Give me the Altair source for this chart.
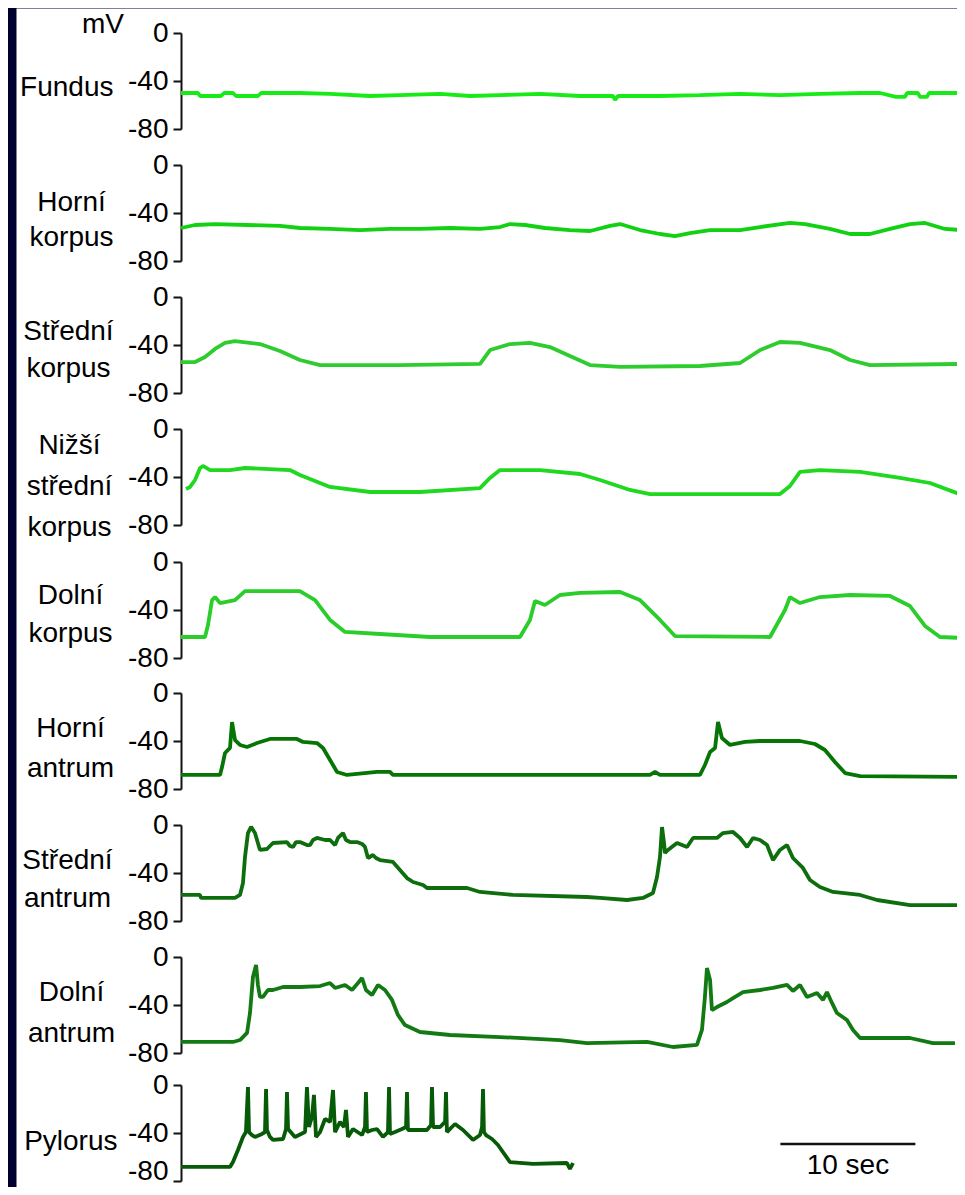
import altair as alt
import pandas as pd

# ---------------- data (time in s, potential in mV) ----------------
TITLES = [
    "Fundus",
    ["Horní", "korpus"],
    ["Střední", "korpus"],
    ["Nižší", "střední", "korpus"],
    ["Dolní", "korpus"],
    ["Horní", "antrum"],
    ["Střední", "antrum"],
    ["Dolní", "antrum"],
    "Pylorus",
]
TICKS = [0, -40, -80]
UNIT = "mV"
SCALE_BAR = [44.4, 54.4]
SCALE_LABEL = "10 sec"

COLORS = ["#18ea18", "#12d012", "#2fcc2f", "#1fd81f", "#2acd2a",
          "#067506", "#0e6e0e", "#137a13", "#075a07"]

FUNDUS = [(0, -50), (1.26, -50), (1.41, -52.5), (2.96, -52.5), (3.19, -50), (3.85, -50),
          (4.07, -52.5), (5.70, -52.5), (5.93, -50), (8.81, -50), (11.04, -50.8), (14.0, -52.5),
          (16.22, -51.7), (19.19, -50.8), (21.41, -52.5), (23.63, -51.7), (26.59, -50.8),
          (29.56, -52.5), (32.0, -52.5), (32.15, -55.8), (32.37, -52.5), (35.48, -52.5),
          (38.44, -51.7), (41.41, -50.8), (44.37, -51.7), (47.33, -50.8), (50.3, -50),
          (51.78, -50), (52.96, -53.3), (53.63, -53.3), (53.78, -50), (54.59, -50),
          (54.74, -53.3), (55.26, -53.3), (55.41, -50), (57.78, -50)]

HORNI_KORPUS = [(0, -52.5), (1.04, -50), (2.52, -49.2), (7.33, -50.8), (8.81, -52.5),
                (11.04, -53.3), (13.26, -54.2), (15.48, -53.3), (17.7, -53.3), (19.93, -52.5),
                (22.15, -53.3), (23.63, -51.7), (24.37, -49.2), (25.48, -50), (26.96, -52.5),
                (28.81, -54.2), (30.3, -55), (31.78, -50.8), (32.52, -49.2), (34.0, -54.2),
                (35.48, -57.5), (36.59, -59.2), (37.7, -56.7), (39.19, -54.2), (41.41, -54.2),
                (42.89, -51.7), (45.11, -48.3), (46.22, -49.2), (48.07, -53.3), (49.56, -57.5),
                (51.04, -57.5), (52.52, -53.3), (54.0, -49.2), (55.11, -48.3), (56.59, -53.3),
                (57.85, -54.2)]

STREDNI_KORPUS = [(0, -54.2), (1.04, -54.2), (1.78, -50), (2.52, -43.3), (3.26, -38.3),
                  (4.0, -36.7), (5.85, -39.2), (7.33, -45), (8.81, -52.5), (10.3, -56.7),
                  (16.22, -56.7), (22.15, -55.8), (22.89, -44.2), (24.37, -39.2), (25.85, -38.3),
                  (27.33, -41.7), (28.81, -49.2), (30.3, -56.7), (32.52, -58.3), (38.44, -57.5),
                  (41.41, -55), (42.89, -44.2), (44.37, -37.5), (45.85, -38.3), (48.07, -44.2),
                  (49.56, -52.5), (51.04, -56.7), (57.85, -55.8)]

NIZSI_KORPUS = [(0.37, -50), (0.67, -48.3), (1.04, -42.5), (1.41, -32.5), (1.63, -30.8),
                (2.15, -34.2), (3.63, -34.2), (4.74, -32.5), (8.07, -34.2), (8.81, -38.3),
                (11.04, -48.3), (14.0, -52.5), (17.7, -52.5), (22.15, -49.2), (22.89, -40.8),
                (23.63, -34.2), (26.59, -34.2), (29.56, -37.5), (31.04, -42.5), (33.26, -50.8),
                (34.74, -54.2), (44.37, -54.2), (45.11, -47.5), (45.85, -35.8), (47.33, -34.2),
                (50.3, -35.8), (53.26, -40.8), (55.48, -45), (57.85, -55)]

DOLNI_KORPUS = [(0, -62.5), (1.78, -62.5), (2.0, -52.5), (2.30, -31.7), (2.52, -29.2),
                (2.89, -34.2), (4.0, -31.7), (4.74, -24.2), (8.81, -24.2), (9.93, -31.7),
                (11.04, -48.3), (12.15, -58.3), (14.74, -60), (18.44, -62.5), (25.11, -62.5),
                (25.85, -48.3), (26.22, -32.5), (26.96, -35.8), (28.07, -27.5), (29.56, -25.8),
                (32.52, -25), (34.0, -31.7), (35.48, -48.3), (36.59, -61.7), (43.63, -62.5),
                (44.74, -40), (45.11, -29.2), (45.85, -34.2), (47.33, -29.2), (49.56, -27.5),
                (52.52, -28.3), (54.0, -36.7), (55.11, -53.3), (56.22, -62.5), (57.85, -63.3)]

HORNI_ANTRUM = [(0, -68.3), (2.89, -68.3), (3.04, -61.7), (3.26, -50), (3.63, -45.8),
                (3.78, -24.2), (4.0, -39.2), (4.37, -43.3), (4.89, -45), (5.63, -41.7),
                (6.59, -38.3), (8.59, -38.3), (9.04, -40.8), (10.07, -41.7), (10.52, -45.8),
                (11.04, -55.8), (11.56, -65.8), (12.30, -68.3), (14.52, -65.8), (15.48, -65.8),
                (15.70, -68.3), (34.74, -68.3), (35.11, -65.8), (35.48, -68.3), (38.44, -68.3),
                (38.81, -60), (39.19, -49.2), (39.56, -45.8), (39.78, -24.2), (40.07, -37.5),
                (40.67, -43.3), (41.78, -40.8), (42.89, -40), (45.85, -40), (46.96, -42.5),
                (47.70, -47.5), (48.44, -57.5), (49.19, -66.7), (50.30, -69.2), (57.85, -70)]

STREDNI_ANTRUM = [(0, -58.3), (1.41, -58.3), (1.48, -60.8), (4.0, -60.8), (4.37, -58.3),
                  (4.59, -48.3), (4.74, -26.7), (4.96, -6.7), (5.19, -1.5), (5.48, -6.7),
                  (5.85, -20.8), (6.37, -20), (6.81, -15), (7.85, -14.2), (8.07, -17.5),
                  (8.30, -18.3), (8.52, -14.2), (8.81, -14.2), (9.33, -16.7), (9.56, -16.7),
                  (9.78, -12.5), (10.07, -10.8), (10.67, -12.5), (11.04, -12.5), (11.41, -16.7),
                  (11.63, -10.8), (12.0, -6.7), (12.22, -12.5), (12.52, -14.2), (13.04, -14.2),
                  (13.41, -15.8), (13.63, -18.3), (13.85, -27.5), (14.22, -25), (14.44, -27.5),
                  (14.74, -29.2), (15.70, -30.8), (16.22, -37.5), (16.74, -44.2), (17.19, -47.5),
                  (17.93, -50), (18.22, -52.5), (21.19, -52.5), (22.15, -55.8), (24.59, -58.3),
                  (30.07, -60), (31.04, -60.8), (33.04, -62.5), (34.22, -60.8), (34.96, -56.7),
                  (35.26, -43.3), (35.48, -26.7), (35.63, -1.7), (35.78, -15), (35.85, -23.3),
                  (36.07, -20.8), (36.74, -15), (37.48, -18.3), (37.93, -10.8), (39.70, -10.8),
                  (40.15, -6.7), (40.89, -5.8), (41.41, -10.8), (41.93, -18.3), (42.37, -10.8),
                  (42.89, -12.5), (43.41, -16.7), (43.85, -29.2), (44.37, -20.8), (44.89, -16.7),
                  (45.33, -27.5), (46.07, -35.8), (46.59, -45.8), (47.33, -51.7), (48.30, -55.8),
                  (50.30, -58.3), (51.56, -62.5), (54.0, -66.7), (57.85, -66.7)]

DOLNI_ANTRUM = [(0, -70.8), (3.85, -70.8), (4.37, -69.2), (4.89, -63.3), (5.11, -46.7),
                (5.33, -16.7), (5.56, -6.7), (5.70, -23.3), (5.85, -33.3), (6.07, -33.3),
                (6.44, -27.5), (6.81, -27.5), (7.56, -25), (8.81, -25), (10.30, -24.2),
                (11.04, -21.7), (11.41, -25.8), (12.15, -23.3), (12.67, -27.5), (13.11, -21.7),
                (13.41, -17.5), (13.70, -27.5), (14.15, -31.7), (14.59, -23.3), (15.11, -27.5),
                (15.63, -35.8), (16.07, -48.3), (16.59, -56.7), (17.70, -62.5), (19.93, -65),
                (23.63, -66.7), (28.07, -69.2), (30.07, -71.7), (34.52, -70.8), (36.44, -75),
                (38.22, -73.3), (38.59, -60.8), (38.81, -33.3), (38.96, -9.2), (39.19, -19.2),
                (39.33, -44.2), (39.70, -41.7), (40.44, -37.5), (40.89, -34.2), (41.63, -29.2),
                (42.89, -27.5), (43.85, -25.8), (44.89, -23.3), (45.33, -28.3), (45.85, -23.3),
                (46.37, -33.3), (47.11, -30), (47.56, -35.8), (47.85, -29.2), (48.22, -38.3),
                (48.59, -46.7), (49.33, -52.5), (49.78, -60.8), (50.30, -67.5), (54.0, -67.5),
                (55.70, -71.7), (57.33, -71.7)]

PYLORUS = [(0, -68.3), (3.63, -68.3), (3.85, -64.2), (4.22, -54.2), (4.59, -43.3),
           (4.81, -39.2), (4.96, -1.7), (5.04, -39.2), (5.26, -41.7), (5.48, -43.3),
           (6.0, -40.8), (6.22, -39.2), (6.30, -3.3), (6.37, -37.5), (6.59, -43.3),
           (6.81, -45.8), (7.56, -45), (7.78, -36.7), (7.85, -5.8), (7.93, -36.7),
           (8.44, -43.3), (9.19, -39.2), (9.33, -1.7), (9.48, -35), (9.70, -26.7),
           (9.85, -8.3), (10.0, -43.3), (10.30, -39.2), (10.67, -28.3), (11.04, -30.8),
           (11.26, -4.2), (11.41, -39.2), (11.78, -30.8), (12.07, -35), (12.22, -20.8),
           (12.37, -43.3), (12.74, -36.7), (13.41, -41.7), (13.63, -35), (13.70, -5.8),
           (13.78, -39.2), (14.15, -37.5), (14.52, -36.7), (14.96, -43.3), (15.33, -39.2),
           (15.41, -1.7), (15.48, -40.8), (15.85, -39.2), (16.37, -36.7), (16.67, -35),
           (16.74, -5.8), (16.81, -37.5), (17.70, -37.5), (18.22, -37.5), (18.52, -33.3),
           (18.59, -1.7), (18.67, -35), (19.19, -35), (19.56, -30.8), (19.63, -5.8),
           (19.70, -39.2), (20.07, -35), (20.30, -32.5), (20.89, -37.5), (21.63, -45.8),
           (22.15, -41.7), (22.30, -35), (22.37, -3.3), (22.44, -39.2), (22.59, -41.7),
           (23.04, -45), (23.48, -50), (24.37, -64.2), (26.07, -65.8), (28.59, -65),
           (28.81, -70), (29.04, -65)]

SERIES = [FUNDUS, HORNI_KORPUS, STREDNI_KORPUS, NIZSI_KORPUS, DOLNI_KORPUS,
          HORNI_ANTRUM, STREDNI_ANTRUM, DOLNI_ANTRUM, PYLORUS]

# ---------------- layout (pixels inside the white view) ----------------
PANEL_TOP = [25, 157, 289, 421, 554, 685, 817, 949, 1077]   # y of the 0 mV tick
PANEL_SPAN = 96                                             # pixels from 0 to -80 mV
AXIS_X = 165
TITLE_POS = [  # (align, x relative to axis, y of first line, line height)
    ("right", -68, 79, 34),
    ("center", -110, 194, 35),
    ("center", -113, 323, 37),
    ("center", -112, 437, 41),
    ("center", -111, 587, 38),
    ("center", -111, 720, 40),
    ("center", -114, 852, 38),
    ("center", -110, 984, 41),
    ("right", -64, 1133, 34),
]
FONT = "Liberation Sans"
FS = 28

XSCALE = alt.Scale(domain=[0, 58], range=[AXIS_X, AXIS_X + 13.5 * 58], nice=False, zero=False)

layers = []
for i, pts in enumerate(SERIES):
    df = pd.DataFrame(pts, columns=["t", "v"])
    top = PANEL_TOP[i]
    align, tx, ty, lh = TITLE_POS[i]
    extra = {}
    if i == len(SERIES) - 1:
        extra["labelOffset"] = {"condition": {"test": "datum.value === -80", "value": -10},
                                "value": 0}
    axis = alt.Axis(
        values=TICKS, orient="left", offset=-AXIS_X, grid=False,
        labelExpr="'' + datum.value",
        title=TITLES[i], titleAngle=0, titleAlign=align, titleBaseline="middle",
        titleX=tx, titleY=ty, titleLineHeight=lh,
        titleFont=FONT, titleFontSize=FS, titleFontWeight="normal", titleColor="#000",
        labelFont=FONT, labelFontSize=FS, labelColor="#000", labelPadding=5,
        tickSize=8, tickWidth=2, tickColor="#111", domainColor="#111", domainWidth=2,
        **extra,
    )
    layers.append(
        alt.Chart(df).mark_line(color=COLORS[i], strokeWidth=3.8, strokeJoin="bevel").encode(
            x=alt.X("t:Q", scale=XSCALE, axis=None),
            y=alt.Y("v:Q", axis=axis,
                    scale=alt.Scale(domain=[-80, 0], range=[top + PANEL_SPAN, top],
                                    nice=False, zero=False)),
        )
    )

bar_df = pd.DataFrame({"t0": [SCALE_BAR[0]], "t1": [SCALE_BAR[1]],
                       "tm": [(SCALE_BAR[0] + SCALE_BAR[1]) / 2], "lab": [SCALE_LABEL]})
bar = alt.Chart(bar_df).mark_rule(color="#111", strokeWidth=2.5).encode(
    x=alt.X("t0:Q", scale=XSCALE, axis=None), x2="t1:Q", y=alt.value(1136))
bar_text = alt.Chart(bar_df).mark_text(font=FONT, fontSize=FS, color="#000",
                                       baseline="middle", align="center").encode(
    x=alt.X("tm:Q", scale=XSCALE, axis=None), y=alt.value(1158), text="lab:N")
unit = alt.Chart(pd.DataFrame({"u": [UNIT]})).mark_text(
    font=FONT, fontSize=FS, color="#000", baseline="middle", align="center").encode(
    x=alt.value(87), y=alt.value(17), text="u:N")

chart = alt.layer(*layers, bar, bar_text, unit).resolve_scale(
    y="independent").resolve_axis(y="independent").properties(
    width=941, height=1179, background="#000030",
    padding={"left": 8, "top": 0, "right": 0, "bottom": 0},
    autosize=alt.AutoSizeParams(type="none"),
).configure_view(fill="white", stroke="transparent")

chart.save("out.html", embed_options={"renderer": "svg", "actions": False})
